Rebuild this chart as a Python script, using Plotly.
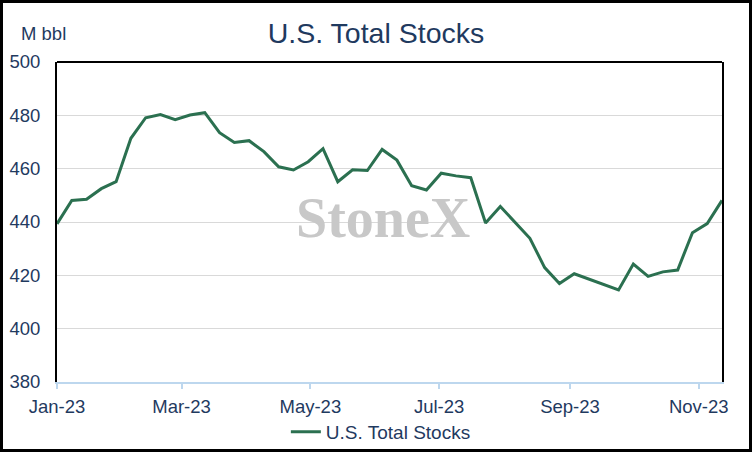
import datetime as dt
import plotly.graph_objects as go

start_date = "2023-01-06"
series_name = "U.S. Total Stocks"
stocks = [
    439.3, 448.1, 448.5, 452.5, 455.1, 471.4, 479.1, 480.3, 478.4, 480.1,
    481.0, 473.5, 469.8, 470.5, 466.4, 460.7, 459.5, 462.6, 467.5, 455.1,
    459.6, 459.3, 467.2, 463.2, 453.6, 452.0, 458.3, 457.3, 456.6, 439.6,
    445.8, 440.0, 433.9, 422.9, 416.9, 420.6, 418.6, 416.5, 414.5, 424.2,
    419.6, 421.3, 422.0, 436.0, 439.4, 448.1,
]
tick_dates = ["2023-01-06", "2023-03-06", "2023-05-06", "2023-07-06", "2023-09-06", "2023-11-06"]
tick_labels = ["Jan-23", "Mar-23", "May-23", "Jul-23", "Sep-23", "Nov-23"]

d0 = dt.date.fromisoformat(start_date)
dates = [d0 + dt.timedelta(weeks=i) for i in range(len(stocks))]

navy = "#1F3A5F"
line_color = "#2B7050"
font_family = "Liberation Sans, Arial, sans-serif"

fig = go.Figure()
fig.add_trace(go.Scatter(
    x=dates, y=stocks, mode="lines", name=series_name,
    line=dict(color=line_color, width=3),
))

W, H = 752, 452
ml, mr, mt, mb = 57, 30, 62, 70
pw, ph = W - ml - mr, H - mt - mb

fig.update_layout(
    width=W, height=H,
    margin=dict(l=ml, r=mr, t=mt, b=mb, autoexpand=False),
    paper_bgcolor="white", plot_bgcolor="white",
    font=dict(family=font_family, color=navy, size=18),
    title=dict(text="U.S. Total Stocks", x=0.5, xanchor="center", y=1 - 33 / H, yanchor="middle",
               font=dict(size=28.5, color=navy, family=font_family)),
    showlegend=True,
    legend=dict(orientation="h", x=0.487, xanchor="center",
                yref="container", y=1 - 432 / H, yanchor="middle",
                font=dict(size=19, color=navy), bgcolor="rgba(0,0,0,0)"),
    xaxis=dict(
        type="date", range=[dates[0], dates[-1]], automargin=False,
        tickvals=tick_dates, ticktext=tick_labels,
        showgrid=False, showline=True, linecolor="#BDD7EE", linewidth=2,
        ticks="outside", ticklen=5, tickcolor="#BDD7EE", tickwidth=2,
        ticklabelstandoff=2,
        tickfont=dict(size=18.5, color=navy), zeroline=False,
    ),
    yaxis=dict(
        range=[380, 500], dtick=20, tick0=380, automargin=False,
        showgrid=True, gridcolor="#D9D9D9", gridwidth=1,
        showline=True, linecolor="black", linewidth=2, mirror=True,
        ticks="", ticklabelstandoff=11,
        tickfont=dict(size=18.5, color=navy), zeroline=False,
    ),
    shapes=[
        dict(type="line", xref="paper", yref="paper", x0=0, x1=1, y0=1, y1=1,
             line=dict(color="black", width=2)),
        dict(type="rect", xref="paper", yref="paper",
             x0=(1.5 - ml) / pw, x1=1 + (mr - 1.5) / pw,
             y0=-(mb - 1.5) / ph, y1=1 + (mt - 1.5) / ph,
             line=dict(color="black", width=3), fillcolor="rgba(0,0,0,0)", layer="above"),
    ],
    annotations=[
        dict(text="M bbl", xref="paper", yref="paper", x=(19 - ml) / pw, xanchor="left",
             y=1 + (382 - 33 - ph) / ph, yanchor="middle", showarrow=False,
             font=dict(size=18.5, color=navy, family=font_family)),
        dict(text="<b>StoneX</b>", xref="paper", yref="paper", x=(383 - ml) / pw, xanchor="center",
             y=(382 - 218) / ph, yanchor="middle", showarrow=False,
             font=dict(size=56, color="#C8C8C8", family="Liberation Serif, Times New Roman, serif")),
    ],
)

fig.write_html("out.html", config={"displayModeBar": False},
               post_script="document.body.style.margin='0';document.body.style.padding='0';")
